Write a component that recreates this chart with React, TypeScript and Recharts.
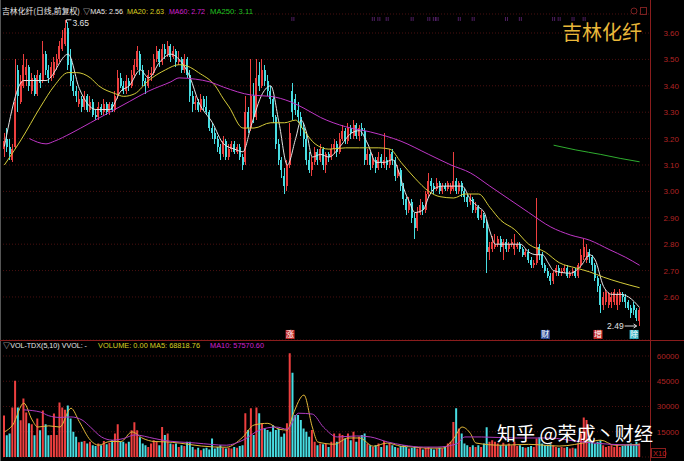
import {
  Bar,
  CartesianGrid,
  Cell,
  ComposedChart,
  Line,
  ReferenceDot,
  XAxis,
  YAxis,
} from "recharts";

const FONT = "'Liberation Sans', 'Noto Sans CJK SC', sans-serif";
const CJK = "'Noto Sans CJK SC', sans-serif";
const RED = "#ee3f3f";
const CYAN = "#48dde2";
const AXIS_RED = "#b02424";
const FRAME = "#8a1d1d";
const GRID = "#4a1010";

// daily candles, oldest first
const opens = [
  3.16, 3.2, 3.17, 3.12, 3.17, 3.46, 3.34, 3.4, 3.44, 3.47,
  3.38, 3.43, 3.37, 3.44, 3.42, 3.52, 3.46, 3.43, 3.44, 3.48,
  3.5, 3.54, 3.56, 3.62, 3.5, 3.42, 3.38, 3.33, 3.35, 3.32,
  3.36, 3.31, 3.34, 3.29, 3.28, 3.32, 3.3, 3.33, 3.3, 3.33,
  3.31, 3.36, 3.43, 3.4, 3.38, 3.42, 3.4, 3.44, 3.47, 3.52,
  3.46, 3.42, 3.4, 3.44, 3.45, 3.5, 3.53, 3.49, 3.54, 3.52,
  3.55, 3.51, 3.53, 3.49, 3.5, 3.46, 3.5, 3.44, 3.36, 3.33,
  3.34, 3.31, 3.35, 3.32, 3.3, 3.24, 3.22, 3.2, 3.17, 3.14,
  3.19, 3.13, 3.16, 3.18, 3.15, 3.17, 3.13, 3.11, 3.3, 3.24,
  3.36, 3.28, 3.44, 3.4, 3.46, 3.42, 3.38, 3.35, 3.28, 3.18,
  3.12, 3.06, 3.02, 3.1, 3.38, 3.35, 3.31, 3.28, 3.24, 3.2,
  3.12, 3.08, 3.11, 3.15, 3.12, 3.16, 3.1, 3.14, 3.13, 3.16,
  3.18, 3.15, 3.2, 3.23, 3.19, 3.24, 3.21, 3.25, 3.21, 3.24,
  3.23, 3.12, 3.14, 3.1, 3.12, 3.09, 3.13, 3.1, 3.12, 3.1,
  3.15, 3.12, 3.06, 3.08, 3.02, 2.97, 2.93, 2.96, 2.9, 2.86,
  2.92, 2.95, 2.93, 2.99, 3.04, 3.02, 3.01, 3.03, 3.0, 3.02,
  3.01, 3.0, 3.01, 3.04, 3.0, 3.03, 3.0, 2.98, 2.96, 2.97,
  2.93, 2.94, 2.9, 2.91, 2.88, 2.77, 2.78, 2.79, 2.8, 2.82,
  2.79, 2.81, 2.78, 2.8, 2.78, 2.79, 2.8, 2.78, 2.76, 2.77,
  2.74, 2.72, 2.73, 2.79, 2.76, 2.72, 2.7, 2.68, 2.66, 2.69,
  2.71, 2.69, 2.7, 2.71, 2.68, 2.69, 2.7, 2.68, 2.72, 2.75,
  2.74, 2.77, 2.75, 2.72, 2.67, 2.64, 2.57, 2.58, 2.57, 2.58,
  2.58, 2.57, 2.58, 2.61, 2.6, 2.58, 2.56, 2.57, 2.55, 2.51,
];

const highs = [
  3.22, 3.24, 3.2, 3.18, 3.5, 3.48, 3.44, 3.52, 3.5, 3.48,
  3.45, 3.44, 3.46, 3.45, 3.57, 3.53, 3.48, 3.49, 3.51, 3.52,
  3.57, 3.61, 3.65, 3.64, 3.54, 3.44, 3.4, 3.38, 3.36, 3.38,
  3.37, 3.36, 3.35, 3.31, 3.34, 3.33, 3.35, 3.34, 3.34, 3.34,
  3.38, 3.46, 3.45, 3.42, 3.44, 3.43, 3.46, 3.5, 3.55, 3.53,
  3.48, 3.43, 3.46, 3.47, 3.52, 3.55, 3.54, 3.56, 3.56, 3.57,
  3.56, 3.55, 3.54, 3.53, 3.51, 3.52, 3.51, 3.46, 3.38, 3.36,
  3.35, 3.37, 3.36, 3.36, 3.31, 3.26, 3.24, 3.21, 3.18, 3.21,
  3.2, 3.18, 3.19, 3.19, 3.18, 3.18, 3.14, 3.36, 3.32, 3.5,
  3.41, 3.5, 3.49, 3.5, 3.48, 3.44, 3.4, 3.36, 3.29, 3.2,
  3.13, 3.09, 3.12, 3.26, 3.41, 3.37, 3.34, 3.3, 3.26, 3.22,
  3.15, 3.13, 3.17, 3.16, 3.18, 3.17, 3.15, 3.15, 3.18, 3.2,
  3.19, 3.22, 3.25, 3.24, 3.26, 3.25, 3.27, 3.26, 3.25, 3.26,
  3.24, 3.16, 3.15, 3.14, 3.13, 3.15, 3.14, 3.22, 3.13, 3.16,
  3.16, 3.13, 3.1, 3.09, 3.03, 2.98, 2.98, 2.97, 2.92, 2.94,
  2.97, 2.96, 3.0, 3.07, 3.05, 3.03, 3.05, 3.04, 3.03, 3.03,
  3.04, 3.03, 3.15, 3.05, 3.04, 3.04, 3.01, 2.99, 2.99, 2.98,
  2.96, 2.95, 2.93, 2.92, 2.89, 2.81, 2.83, 2.84, 2.83, 2.83,
  2.82, 2.82, 2.81, 2.82, 2.84, 2.81, 2.81, 2.79, 2.78, 2.78,
  2.75, 2.74, 2.975, 2.8, 2.77, 2.73, 2.71, 2.69, 2.7, 2.72,
  2.72, 2.71, 2.72, 2.72, 2.7, 2.71, 2.71, 2.73, 2.78, 2.82,
  2.8, 2.78, 2.76, 2.73, 2.68, 2.65, 2.62, 2.63, 2.62, 2.62,
  2.63, 2.62, 2.63, 2.62, 2.61, 2.59, 2.57, 2.58, 2.56, 2.56,
];

const lows = [
  3.13, 3.15, 3.12, 3.11, 3.16, 3.3, 3.33, 3.39, 3.4, 3.38,
  3.37, 3.36, 3.36, 3.39, 3.41, 3.44, 3.41, 3.42, 3.43, 3.46,
  3.49, 3.53, 3.55, 3.46, 3.4, 3.36, 3.34, 3.32, 3.3, 3.31,
  3.3, 3.3, 3.28, 3.27, 3.27, 3.29, 3.29, 3.29, 3.29, 3.3,
  3.3, 3.35, 3.39, 3.37, 3.37, 3.38, 3.39, 3.43, 3.46, 3.44,
  3.4, 3.37, 3.39, 3.42, 3.44, 3.49, 3.47, 3.48, 3.5, 3.51,
  3.49, 3.5, 3.47, 3.48, 3.45, 3.45, 3.43, 3.34, 3.3, 3.31,
  3.3, 3.3, 3.31, 3.29, 3.23, 3.2, 3.18, 3.15, 3.12, 3.13,
  3.12, 3.12, 3.15, 3.14, 3.14, 3.12, 3.08, 3.1, 3.22, 3.23,
  3.26, 3.27, 3.38, 3.39, 3.4, 3.36, 3.33, 3.26, 3.16, 3.1,
  3.05, 2.99, 3.0, 3.09, 3.27, 3.29, 3.26, 3.21, 3.17, 3.1,
  3.07, 3.06, 3.1, 3.1, 3.11, 3.08, 3.07, 3.11, 3.12, 3.14,
  3.13, 3.14, 3.19, 3.18, 3.18, 3.2, 3.2, 3.2, 3.19, 3.21,
  3.1, 3.1, 3.08, 3.09, 3.07, 3.08, 3.09, 3.09, 3.08, 3.09,
  3.1, 3.04, 3.05, 3.0, 2.95, 2.91, 2.92, 2.88, 2.82, 2.85,
  2.91, 2.91, 2.92, 2.98, 3.0, 2.99, 3.0, 2.99, 2.99, 3.0,
  3.0, 2.99, 3.0, 2.99, 2.99, 2.98, 2.96, 2.94, 2.95, 2.92,
  2.92, 2.89, 2.89, 2.86, 2.69, 2.74, 2.77, 2.78, 2.79, 2.77,
  2.74, 2.77, 2.77, 2.79, 2.76, 2.78, 2.77, 2.75, 2.75, 2.73,
  2.71, 2.71, 2.72, 2.74, 2.71, 2.69, 2.67, 2.645, 2.65, 2.68,
  2.68, 2.68, 2.69, 2.67, 2.67, 2.68, 2.67, 2.67, 2.71, 2.74,
  2.73, 2.73, 2.7, 2.66, 2.62, 2.54, 2.55, 2.57, 2.56, 2.56,
  2.57, 2.55, 2.57, 2.58, 2.56, 2.55, 2.52, 2.53, 2.51, 2.49,
];

const closes = [
  3.19, 3.17, 3.14, 3.16, 3.34, 3.36, 3.42, 3.48, 3.47, 3.4,
  3.43, 3.37, 3.44, 3.41, 3.52, 3.46, 3.43, 3.47, 3.49, 3.5,
  3.55, 3.58, 3.62, 3.48, 3.42, 3.38, 3.36, 3.35, 3.32, 3.36,
  3.31, 3.34, 3.29, 3.28, 3.32, 3.3, 3.33, 3.3, 3.33, 3.31,
  3.36, 3.43, 3.4, 3.38, 3.42, 3.4, 3.44, 3.48, 3.53, 3.46,
  3.42, 3.4, 3.44, 3.45, 3.5, 3.53, 3.49, 3.54, 3.52, 3.55,
  3.51, 3.53, 3.49, 3.5, 3.46, 3.5, 3.44, 3.36, 3.33, 3.34,
  3.31, 3.35, 3.32, 3.3, 3.24, 3.22, 3.2, 3.17, 3.14, 3.19,
  3.13, 3.16, 3.18, 3.15, 3.17, 3.13, 3.1, 3.3, 3.24, 3.36,
  3.28, 3.43, 3.4, 3.46, 3.42, 3.38, 3.35, 3.28, 3.18, 3.12,
  3.08, 3.02, 3.1, 3.22, 3.3, 3.31, 3.28, 3.24, 3.2, 3.12,
  3.08, 3.11, 3.15, 3.12, 3.16, 3.1, 3.14, 3.13, 3.16, 3.18,
  3.15, 3.2, 3.23, 3.19, 3.24, 3.22, 3.25, 3.21, 3.24, 3.23,
  3.12, 3.14, 3.1, 3.12, 3.09, 3.13, 3.11, 3.12, 3.1, 3.14,
  3.12, 3.06, 3.08, 3.02, 2.97, 2.93, 2.96, 2.9, 2.86, 2.92,
  2.95, 2.93, 2.99, 3.04, 3.02, 3.01, 3.03, 3.0, 3.02, 3.01,
  3.03, 3.02, 3.04, 3.0, 3.03, 3.0, 2.98, 2.96, 2.97, 2.93,
  2.94, 2.9, 2.91, 2.88, 2.77, 2.79, 2.81, 2.8, 2.82, 2.79,
  2.81, 2.78, 2.8, 2.81, 2.8, 2.8, 2.78, 2.76, 2.77, 2.74,
  2.72, 2.73, 2.79, 2.76, 2.72, 2.7, 2.68, 2.66, 2.69, 2.71,
  2.69, 2.7, 2.71, 2.68, 2.69, 2.7, 2.68, 2.72, 2.76, 2.79,
  2.77, 2.75, 2.72, 2.67, 2.64, 2.57, 2.6, 2.62, 2.61, 2.6,
  2.62, 2.61, 2.62, 2.6, 2.58, 2.56, 2.54, 2.55, 2.52, 2.55,
];

const volumes = [
  24700, 12900, 14000, 29400, 45300, 29400, 21800, 34700, 26500, 20000,
  19400, 12900, 22900, 15900, 27600, 19400, 12900, 13000, 25900, 13000,
  32300, 29400, 28000, 30600, 22900, 15000, 12000, 8800, 9000, 9500,
  8000, 9000, 7000, 6500, 8000, 7000, 9500, 7500, 8500, 10000,
  14000, 19400, 9000, 9000, 8000, 9000, 15900, 20600, 15900, 11800,
  8000, 7000, 6000, 8000, 10000, 9000, 7000, 17800, 13000, 14000,
  8000, 7500, 8000, 6000, 7000, 6500, 9000, 9000, 6000, 4500,
  5500, 4000, 5000, 5500, 4500, 11000, 5000, 6000, 7000, 5500,
  5000, 5500, 5000, 6000, 5500, 6500, 7000, 26000, 16000, 29000,
  13000, 29400, 26000, 20000, 17000, 16000, 15000, 18800, 16000, 17000,
  12000, 14000, 20000, 61700, 50000, 25000, 25000, 22000, 17000, 15000,
  12000, 16000, 9000, 7000, 8000, 7500, 8000, 6000, 9000, 14000,
  9000, 14000, 13000, 11000, 14000, 10000, 15000, 9000, 12000, 13000,
  14000, 8000, 7000, 6000, 7000, 8000, 6000, 9500, 7000, 8000,
  7000, 6000, 5500, 6500, 7000, 6000, 5000, 5500, 6000, 5000,
  5500, 4500, 5500, 6000, 5000, 4500, 5000, 5500, 5000, 6000,
  8000, 9000, 20800, 29000, 17000, 14000, 8000, 7000, 6000, 7000,
  6000, 7000, 6000, 8000, 17600, 9000, 10000, 9000, 8000, 7000,
  8500, 7000, 8000, 7000, 9000, 6500, 7000, 6000, 5500, 6000,
  6500, 6000, 11000, 11800, 8000, 7000, 6500, 7500, 7000, 6000,
  5500, 6000, 5500, 6000, 5000, 5500, 5000, 8000, 14000, 23500,
  22000, 11800, 9000, 8000, 9000, 10000, 7000, 6000, 6500, 7000,
  6000, 7500, 6000, 6500, 7000, 7500, 8000, 7000, 9000, 8000,
];

// moving-average lines: [candle index, value]
const ma5Pts = [
  [0, 3.17], [7, 3.42], [15, 3.42], [23, 3.52], [27, 3.39], [33, 3.31], [38, 3.31],
  [42, 3.38], [45, 3.4], [49, 3.46], [52, 3.43], [56, 3.49], [60, 3.52], [63, 3.5],
  [67, 3.43], [70, 3.34], [75, 3.26], [79, 3.18], [83, 3.16], [86, 3.15], [89, 3.25],
  [93, 3.37], [96, 3.4], [99, 3.26], [102, 3.1], [105, 3.2], [107, 3.27], [109, 3.22],
  [111, 3.13], [114, 3.14], [117, 3.13], [121, 3.17], [125, 3.22], [128, 3.23],
  [131, 3.18], [134, 3.11], [137, 3.11], [140, 3.12], [142, 3.08], [144, 3.01],
  [146, 2.96], [148, 2.92], [151, 2.93], [153, 2.98], [155, 3.01], [158, 3.02],
  [162, 3.02], [165, 3.02], [168, 2.97], [171, 2.94], [173, 2.92], [175, 2.85],
  [177, 2.8], [182, 2.8], [186, 2.8], [189, 2.77], [192, 2.76], [194, 2.76],
  [196, 2.73], [198, 2.7], [204, 2.69], [208, 2.72], [211, 2.76], [213, 2.74],
  [216, 2.64], [219, 2.61], [222, 2.61], [225, 2.6], [229, 2.56],
];
const ma20Pts = [
  [0, 3.1], [6, 3.195], [13, 3.32], [18, 3.4], [23, 3.45], [26, 3.45], [31, 3.43],
  [34, 3.4], [40, 3.37], [43, 3.36], [47, 3.37], [52, 3.42], [58, 3.46], [63, 3.48],
  [67, 3.47], [70, 3.45], [76, 3.4], [79, 3.35], [81, 3.32], [86, 3.24], [90, 3.24],
  [96, 3.26], [101, 3.26], [105, 3.27], [108, 3.23], [112, 3.18], [117, 3.16],
  [123, 3.165], [128, 3.165], [135, 3.165], [139, 3.16], [143, 3.11], [148, 3.05],
  [153, 3.0], [157, 2.98], [162, 2.975], [166, 2.99], [171, 2.99], [175, 2.94],
  [179, 2.89], [184, 2.855], [189, 2.8], [195, 2.77], [200, 2.73], [206, 2.71],
  [211, 2.695], [216, 2.675], [222, 2.655], [229, 2.635],
];
const ma60Pts = [
  [9, 3.2], [15, 3.18], [18, 3.19], [24, 3.22], [31, 3.26], [38, 3.3], [45, 3.34],
  [52, 3.38], [60, 3.415], [63, 3.43], [69, 3.425], [74, 3.415], [79, 3.395],
  [89, 3.365], [96, 3.36], [103, 3.34], [108, 3.315], [114, 3.28], [123, 3.245],
  [132, 3.225], [143, 3.19], [153, 3.14], [161, 3.1], [168, 3.07], [175, 3.02],
  [182, 2.97], [189, 2.92], [197, 2.865], [204, 2.835], [211, 2.815], [218, 2.78],
  [224, 2.75], [229, 2.72],
];
const ma250Pts = [[198, 3.175], [206, 3.157], [215, 3.14], [222, 3.125], [229, 3.112]];

const volMa5Pts = [
  [0, 14900], [3, 19000], [7, 32000], [10, 22000], [12, 17800], [16, 18500],
  [20, 17800], [24, 29000], [27, 21000], [31, 10000], [34, 7000], [38, 9200],
  [42, 9200], [46, 14900], [50, 11000], [54, 9200], [58, 9000], [63, 8300],
  [71, 6500], [80, 5800], [86, 11900], [90, 19000], [95, 20000], [99, 16500],
  [102, 16000], [104, 25000], [108, 36800], [111, 17800], [113, 8900], [119, 7600],
  [124, 11300], [128, 11300], [133, 6400], [138, 8300], [143, 6400], [147, 6000],
  [152, 5300], [158, 5300], [162, 11000], [165, 17800], [168, 14000], [170, 8300],
  [179, 7000], [189, 7500], [200, 6500], [211, 9000], [215, 10000], [220, 7000],
  [229, 7500],
];
const volMa10Pts = [
  [7, 28000], [13, 26700], [16, 24500], [20, 23500], [24, 23800], [28, 22000],
  [31, 17800], [35, 11900], [39, 10000], [43, 11000], [47, 13100], [54, 11000],
  [57, 10000], [69, 8300], [80, 7000], [86, 10000], [92, 16000], [98, 17800],
  [102, 16500], [106, 26000], [111, 25500], [115, 17800], [120, 11900],
  [127, 12500], [132, 11900], [138, 9000], [144, 7000], [151, 5900], [156, 5900],
  [163, 7800], [166, 11900], [172, 11900], [184, 11300], [196, 11300], [208, 9000],
  [219, 7500], [229, 7000],
];

const priceTicks = [2.6, 2.7, 2.8, 2.9, 3.0, 3.1, 3.2, 3.3, 3.4, 3.5, 3.6];
const volTicks = [15000, 30000, 45000, 60000];

const signals = [
  { i: 103, text: "涨", bg: "#c42a2a" },
  { i: 195, text: "财", bg: "#2d4e9c" },
  { i: 214, text: "增", bg: "#c42a2a" },
  { i: 227, text: "除", bg: "#36b4c4" },
];
const infoMarks = [104, 133, 135, 138, 147, 153, 155, 156, 164, 169, 181, 186, 198, 200, 205, 209];

const rows: any[] = closes.map((c, i) => ({
  i,
  o: opens[i],
  h: highs[i],
  l: lows[i],
  c,
  v: volumes[i],
  ma5: null,
  ma20: null,
  ma60: null,
  ma250: null,
  vma5: null,
  vma10: null,
}));

function put(pts: number[][], key: string) {
  for (const [i, v] of pts) rows[i][key] = v;
}
put(ma5Pts, "ma5");
put(ma20Pts, "ma20");
put(ma60Pts, "ma60");
put(ma250Pts, "ma250");
put(volMa5Pts, "vma5");
put(volMa10Pts, "vma10");

function Candle(props: any) {
  const { x, y, width, height, payload } = props;
  if (!payload || height == null) return null;
  const { o, h, l, c } = payload;
  const color = c >= o ? RED : CYAN;
  const top = Math.min(y, y + height);
  const span = Math.abs(height);
  const toY = (v: number) => top + ((h - v) / (h - l || 1)) * span;
  const bTop = toY(Math.max(o, c));
  const bBot = toY(Math.min(o, c));
  const cx = x + width / 2;
  return (
    <g shapeRendering="crispEdges">
      <line x1={cx} x2={cx} y1={top} y2={top + span} stroke={color} strokeWidth={1} />
      <rect x={x} y={bTop} width={width} height={Math.max(1, bBot - bTop)} fill={color} />
    </g>
  );
}

function RightTick(props: any) {
  const { y, payload, digits } = props;
  return (
    <text x={679} y={y + 3} textAnchor="end" fontSize={8} fill={AXIS_RED} fontFamily={FONT}>
      {payload.value.toFixed(digits)}
    </text>
  );
}

const lineProps = {
  type: "monotone" as const,
  dot: false,
  activeDot: false,
  connectNulls: true,
  strokeWidth: 1,
  isAnimationActive: false,
};

const small = { fontSize: 7.4, lengthAdjust: "spacingAndGlyphs" as const };

export default function App() {
  return (
    <div
      style={{
        position: "fixed",
        left: 0,
        top: 0,
        width: 684,
        height: 461,
        background: "#000",
        overflow: "hidden",
      }}
    >
      <div style={{ position: "absolute", left: 0, top: 0 }}>
        <ComposedChart width={684} height={340} data={rows} margin={{ top: 14, right: 0, bottom: 0, left: 3 }}>
          <CartesianGrid vertical={false} stroke={GRID} strokeDasharray="1 2" />
          <XAxis dataKey="i" hide padding={{ left: 0, right: 9 }} />
          <YAxis
            orientation="right"
            width={34}
            domain={[2.437, 3.672]}
            ticks={priceTicks}
            allowDataOverflow
            axisLine={false}
            tickLine={false}
            tick={(p: any) => <RightTick {...p} digits={2} />}
          />
          <Bar dataKey={(d: any) => [d.l, d.h]} barSize={2} shape={(p: any) => <Candle {...p} />} isAnimationActive={false} />
          <Line dataKey="ma5" stroke="#e4e4e4" {...lineProps} />
          <Line dataKey="ma20" stroke="#d4cb3a" {...lineProps} />
          <Line dataKey="ma60" stroke="#bf36c6" {...lineProps} />
          <Line dataKey="ma250" stroke="#2fae2f" {...lineProps} />
          {infoMarks.map((i) => (
            <ReferenceDot
              key={"m" + i}
              x={i}
              y={3.655}
              shape={(p: any) => (
                <g fill="#9a3cc0">
                  <rect x={p.cx - 1.5} y={p.cy - 1} width={1} height={1} />
                  <rect x={p.cx + 0.5} y={p.cy - 1} width={1} height={1} />
                  <rect x={p.cx - 1.5} y={p.cy + 1} width={1} height={1} />
                  <rect x={p.cx + 0.5} y={p.cy + 1} width={1} height={1} />
                </g>
              )}
            />
          ))}
          <ReferenceDot
            x={22}
            y={3.65}
            shape={(p: any) => (
              <g>
                <polyline
                  points={`${p.cx + 1},${p.cy + 3} ${p.cx + 1},${p.cy} ${p.cx + 6},${p.cy}`}
                  fill="none"
                  stroke="#e0e0e0"
                  strokeWidth={1}
                />
                <text x={p.cx + 7} y={p.cy + 6} fontSize={8.5} fill="#e0e0e0" fontFamily={FONT}>
                  3.65
                </text>
              </g>
            )}
          />
          <ReferenceDot
            x={229}
            y={2.49}
            shape={(p: any) => (
              <g>
                <text x={p.cx - 16} y={p.cy + 3} fontSize={8.5} fill="#e0e0e0" textAnchor="end" fontFamily={FONT}>
                  2.49
                </text>
                <line x1={p.cx - 15} x2={p.cx - 3} y1={p.cy} y2={p.cy} stroke="#e0e0e0" strokeWidth={1} />
                <polyline
                  points={`${p.cx - 6},${p.cy - 2} ${p.cx - 3},${p.cy} ${p.cx - 6},${p.cy + 2}`}
                  fill="none"
                  stroke="#e0e0e0"
                  strokeWidth={1}
                />
              </g>
            )}
          />
          {signals.map((s) => (
            <ReferenceDot
              key={s.text}
              x={s.i}
              y={2.458}
              shape={(p: any) => (
                <g>
                  <rect x={p.cx - 4.5} y={p.cy - 4.5} width={9} height={9} fill={s.bg} />
                  <text x={p.cx} y={p.cy + 3} fontSize={8} fill="#ffffff" textAnchor="middle" fontFamily={CJK}>
                    {s.text}
                  </text>
                </g>
              )}
            />
          ))}
        </ComposedChart>
      </div>

      <div style={{ position: "absolute", left: 0, top: 340 }}>
        <ComposedChart width={684} height={121} data={rows} margin={{ top: 0, right: 0, bottom: 4, left: 3 }}>
          <CartesianGrid vertical={false} stroke={GRID} strokeDasharray="1 2" />
          <XAxis dataKey="i" hide padding={{ left: 0, right: 9 }} />
          <YAxis
            orientation="right"
            width={34}
            domain={[0, 69500]}
            ticks={volTicks}
            allowDataOverflow
            axisLine={false}
            tickLine={false}
            tick={(p: any) => <RightTick {...p} digits={0} />}
          />
          <Bar dataKey="v" barSize={2} isAnimationActive={false}>
            {rows.map((r) => (
              <Cell key={r.i} fill={r.c >= r.o ? RED : CYAN} />
            ))}
          </Bar>
          <Line dataKey="vma5" stroke="#e2b83a" {...lineProps} />
          <Line dataKey="vma10" stroke="#b03cc0" {...lineProps} />
        </ComposedChart>
      </div>

      <svg
        width={684}
        height={461}
        style={{ position: "absolute", left: 0, top: 0, pointerEvents: "none" }}
      >
        <line x1={0.5} x2={0.5} y1={0} y2={461} stroke="#555" />
        <line x1={650.5} x2={650.5} y1={0} y2={461} stroke={FRAME} />
        <line x1={0} x2={684} y1={340.5} y2={340.5} stroke={FRAME} />

        <text x={2} y={13.5} {...small} fontSize={7.8} fill="#e8e8e8" fontFamily={CJK} textLength={78}>
          吉林化纤(日线,前复权)
        </text>
        <text x={83} y={13.5} {...small} fill="#e8e8e8" fontFamily={FONT} textLength={40}>
          ▽MA5: 2.56
        </text>
        <text x={127} y={13.5} {...small} fill="#d8d020" fontFamily={FONT} textLength={37}>
          MA20: 2.63
        </text>
        <text x={169} y={13.5} {...small} fill="#d020d0" fontFamily={FONT} textLength={36}>
          MA60: 2.72
        </text>
        <text x={210} y={13.5} {...small} fill="#20c020" fontFamily={FONT} textLength={43}>
          MA250: 3.11
        </text>

        <circle cx={634} cy={11} r={3} fill="none" stroke="#7a2020" />
        <rect x={640.5} y={7.5} width={6} height={7} fill="none" stroke="#7a2020" />

        <text x={562} y={40} fontSize={20} fill="#eab83a" fontFamily={CJK} textLength={80} lengthAdjust="spacingAndGlyphs">
          吉林化纤
        </text>

        <text x={3} y={347.5} {...small} fill="#e8e8e8" fontFamily={FONT} textLength={84}>
          ▽VOL-TDX(5,10) VVOL: -
        </text>
        <text x={98} y={347.5} {...small} fill="#d8d020" fontFamily={FONT} textLength={102}>
          VOLUME: 0.00 MA5: 68818.76
        </text>
        <text x={210} y={347.5} {...small} fill="#d020d0" fontFamily={FONT} textLength={54}>
          MA10: 57570.60
        </text>

        <rect x={651.5} y={448.5} width={14} height={9} fill="none" stroke={FRAME} />
        <text x={653} y={456} fontSize={7.5} fill="#c02020" fontFamily={FONT}>
          X10
        </text>

        <text x={497} y={441} fontSize={19} fill="#ffffff" fontFamily={CJK} textLength={156} lengthAdjust="spacingAndGlyphs">
          知乎 @荣成丶财经
        </text>
      </svg>
    </div>
  );
}
